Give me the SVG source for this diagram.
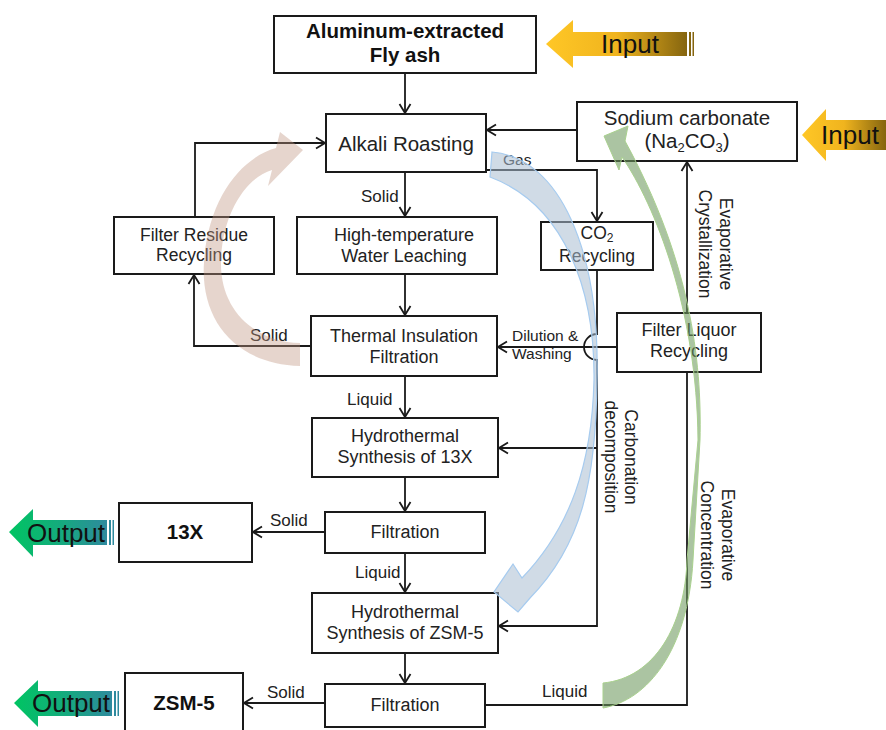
<svg xmlns="http://www.w3.org/2000/svg" width="886" height="730" viewBox="0 0 886 730">
<defs>
<style>
.box{fill:#fff;stroke:#1a1a1a;stroke-width:2}
.t{font-family:"Liberation Sans",Arial,sans-serif;font-size:18px;fill:#222;text-anchor:middle}
.b{font-weight:bold;font-size:20.5px;fill:#111}
.big{font-size:20.5px}
.mid{font-size:17.5px}
.lbl{font-family:"Liberation Sans",Arial,sans-serif;font-size:17px;fill:#222}
.sm{font-size:15.5px}
.io{font-family:"Liberation Sans",Arial,sans-serif;font-size:26px;fill:#111;text-anchor:middle}
.c{fill:none;stroke:#1a1a1a;stroke-width:1.8}
.a{marker-end:url(#ah)}
</style>
<marker id="ah" viewBox="-11 -7 12 14" refX="0" refY="0" markerWidth="12" markerHeight="14" markerUnits="userSpaceOnUse" orient="auto">
<path d="M-9,-5.5 L0,0 L-9,5.5" fill="none" stroke="#1a1a1a" stroke-width="1.8"/>
</marker>
<linearGradient id="gIn" x1="0" y1="0" x2="1" y2="0">
<stop offset="0" stop-color="#FFC726"/>
<stop offset="0.5" stop-color="#F0B41E"/>
<stop offset="1" stop-color="#85650F"/>
</linearGradient>
<linearGradient id="gOut" x1="0" y1="0" x2="1" y2="0">
<stop offset="0" stop-color="#00C462"/>
<stop offset="0.5" stop-color="#14AC7C"/>
<stop offset="1" stop-color="#2E8A9E"/>
</linearGradient>
</defs>
<rect width="886" height="730" fill="#fff"/>

<g id="io-arrows">
<g id="input-top">
<polygon points="546,44 573,20 573,32 687,32 687,56 573,56 573,68" fill="url(#gIn)"/>
<rect x="689" y="32" width="2" height="24" fill="#85650F"/>
<rect x="692.5" y="32" width="1.5" height="24" fill="#85650F"/>
<text class="io" x="630" y="53">Input</text>
</g>
<g id="input-right">
<polygon points="802,135 826,109 826,120 886,120 886,150 826,150 826,161" fill="url(#gIn)"/>
<text class="io" x="850" y="144">Input</text>
</g>
<g id="output-13x">
<polygon points="9,532 33,509 33,520 107,520 107,545 33,545 33,557" fill="url(#gOut)"/>
<rect x="109" y="520" width="2" height="25" fill="#2E8A9E"/>
<rect x="112.5" y="520" width="1.5" height="25" fill="#2E8A9E"/>
<text class="io" x="66" y="542">Output</text>
</g>
<g id="output-zsm5">
<polygon points="14,703 38,680 38,691 112,691 112,716 38,716 38,727" fill="url(#gOut)"/>
<rect x="114" y="691" width="2" height="25" fill="#2E8A9E"/>
<rect x="117.5" y="691" width="1.5" height="25" fill="#2E8A9E"/>
<text class="io" x="71" y="712">Output</text>
</g>
</g>

<g id="connectors">
<path class="c a" d="M405,73 V113"/>
<path class="c a" d="M577,130 H487"/>
<path class="c a" d="M487,170 H597 V221"/>
<path class="c a" d="M405,172 V216"/>
<path class="c a" d="M195,217 V143 H325"/>
<path class="c a" d="M405,274 V315"/>
<path class="c a" d="M311,346 H194 V275"/>
<path class="c a" d="M405,376 V417"/>
<path class="c a" d="M617,347 H498"/>
<path class="c a" d="M597,270 V334 A13,13 0 0 0 597,360 V626 H499"/>
<path class="c a" d="M597,448 H499"/>
<path class="c a" d="M405,477 V511"/>
<path class="c a" d="M325,532 H253"/>
<path class="c a" d="M405,553 V592"/>
<path class="c a" d="M405,653 V683"/>
<path class="c a" d="M325,703 H244"/>
<path class="c" d="M485,705 H687 V372"/>
<path class="c a" d="M687,313 V162"/>
<text class="lbl sm" x="503" y="165">Gas</text>
<text class="lbl" x="361" y="202">Solid</text>
<text class="lbl" x="250" y="341">Solid</text>
<text class="lbl" x="347" y="405">Liquid</text>
<text class="lbl sm" x="512" y="341">Dilution &amp;</text>
<text class="lbl sm" x="512" y="359">Washing</text>
<text class="lbl" x="270" y="526">Solid</text>
<text class="lbl" x="355" y="578">Liquid</text>
<text class="lbl" x="267" y="698">Solid</text>
<text class="lbl" x="542" y="697">Liquid</text>
<text class="t mid" transform="translate(720,244) rotate(90)">Evaporative</text>
<text class="t mid" transform="translate(699,244) rotate(90)">Crystallization</text>
<text class="t mid" transform="translate(625,457) rotate(90)">Carbonation</text>
<text class="t mid" transform="translate(605,457) rotate(90)">decomposition</text>
<text class="t mid" transform="translate(722,535) rotate(90)">Evaporative</text>
<text class="t mid" transform="translate(701,535) rotate(90)">Concentration</text>
</g>

<g id="n-flyash"><rect class="box" x="274" y="16" width="262" height="57"/>
<text class="t b" x="405" y="38">Aluminum-extracted</text><text class="t b" x="405" y="62">Fly ash</text></g>
<g id="n-alkali"><rect class="box" x="326" y="114" width="160" height="58"/>
<text class="t big" x="406" y="151">Alkali Roasting</text></g>
<g id="n-sodium"><rect class="box" x="577" y="102" width="220" height="59"/>
<text class="t big" x="687" y="125">Sodium carbonate</text>
<text class="t big" x="687" y="148">(Na<tspan font-size="13" dy="4">2</tspan><tspan dy="-4">CO</tspan><tspan font-size="13" dy="4">3</tspan><tspan dy="-4">)</tspan></text></g>
<g id="n-residue"><rect class="box" x="114" y="217" width="160" height="57"/>
<text class="t mid" x="194" y="241">Filter Residue</text><text class="t mid" x="194" y="261">Recycling</text></g>
<g id="n-leach"><rect class="box" x="297" y="217" width="200" height="57"/>
<text class="t" x="404" y="241">High-temperature</text><text class="t" x="404" y="262">Water Leaching</text></g>
<g id="n-co2"><rect class="box" x="541" y="222" width="112" height="48"/>
<text class="t mid" x="597" y="239">CO<tspan font-size="12" dy="3">2</tspan></text><text class="t mid" x="597" y="262">Recycling</text></g>
<g id="n-thermal"><rect class="box" x="311" y="316" width="186" height="60"/>
<text class="t" x="404" y="342">Thermal Insulation</text><text class="t" x="404" y="363">Filtration</text></g>
<g id="n-liquor"><rect class="box" x="617" y="313" width="144" height="59"/>
<text class="t" x="689" y="336">Filter Liquor</text><text class="t" x="689" y="357">Recycling</text></g>
<g id="n-hydro13x"><rect class="box" x="312" y="418" width="186" height="59"/>
<text class="t" x="405" y="442">Hydrothermal</text><text class="t" x="405" y="463">Synthesis of 13X</text></g>
<g id="n-filt1"><rect class="box" x="325" y="512" width="160" height="41"/>
<text class="t" x="405" y="538">Filtration</text></g>
<g id="n-13x"><rect class="box" x="119" y="503" width="133" height="59"/>
<text class="t b" x="185" y="539">13X</text></g>
<g id="n-hydrozsm"><rect class="box" x="312" y="593" width="186" height="60"/>
<text class="t" x="405" y="618">Hydrothermal</text><text class="t" x="405" y="639">Synthesis of ZSM-5</text></g>
<g id="n-filt2"><rect class="box" x="325" y="684" width="160" height="43"/>
<text class="t" x="405" y="711">Filtration</text></g>
<g id="n-zsm5"><rect class="box" x="125" y="673" width="118" height="62"/>
<text class="t b" x="184" y="710">ZSM-5</text></g>

<g id="flow-arrows">
<path d="M300,366 C235,364 200,320 204,262 C208,200 240,158 276,148 L280,132 L303,150 L268,186 L272,170 C245,178 222,215 221,262 C220,310 255,342 300,343 Z" fill="#C09683" fill-opacity="0.4"/>
<path d="M492,152 C560,158 600,250 597,380 C596,480 582,545 530,598 L518,612 L494,592 L513,564 L522,578 C570,528 592,465 594,380 C595,290 565,205 490,177 Z" fill="#A9BDD2" fill-opacity="0.55" stroke="#A6CBEF" stroke-width="1.2"/>
<path d="M603,708 C648,700 688,650 693,560 L700,440 C702,360 690,260 625,141 L628,126 L604,136 L619,170 L622,157 C655,205 697,310 698,440 L687,560 C685,625 655,678 603,683 Z" fill="#6E9A5E" fill-opacity="0.58" stroke="#A9D18E" stroke-width="1"/>
</g>
</svg>
